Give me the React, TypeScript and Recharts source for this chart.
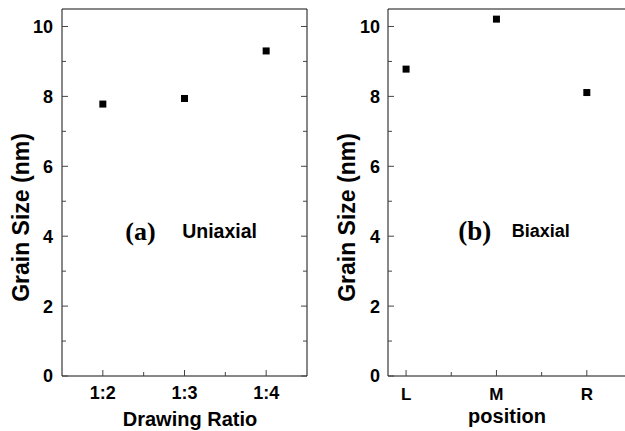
import React from 'react';
import { ScatterChart, Scatter, XAxis, YAxis, ReferenceDot } from 'recharts';

// panel (a): uniaxial drawing
const ratioLabels = ['1:2', '1:3', '1:4'];
const uniaxialSize = [7.78, 7.94, 9.3];

// panel (b): biaxial, measured position
const positionLabels = ['L', 'M', 'R'];
const biaxialSize = [8.78, 10.21, 8.11];

const yTicks = [0, 1, 2, 3, 4, 5, 6, 7, 8, 9, 10];
const xTicks = [1, 1.5, 2, 2.5, 3];
const yLabel = 'Grain Size (nm)';

const SANS = '"Liberation Sans", Arial, Helvetica, sans-serif';
const SERIF = '"Liberation Serif", "Times New Roman", serif';
const tickColor = '#444';
const axisColor = '#111';

const toPoints = (values: number[]) => values.map((v, i) => ({ x: i + 1, y: v }));

const square = (p: any) => (
  <rect x={p.cx - 3.5} y={p.cy - 3.5} width={7} height={7} fill="#000" />
);

// ticks all point inward, like the original Origin plot
const leftTick = (gap: number) => (p: any) => {
  const v = p.payload.value;
  const major = v % 2 === 0;
  return (
    <g>
      <line x1={p.x} x2={p.x + (major ? 6 : 4)} y1={p.y} y2={p.y} stroke={tickColor} />
      {major && (
        <text x={p.x - gap} y={p.y} dy="0.36em" textAnchor="end" fontFamily={SANS} fontWeight="bold" fontSize={18} fill="#000">
          {v}
        </text>
      )}
    </g>
  );
};

const rightTick = (p: any) => {
  const major = p.payload.value % 2 === 0;
  return <line x1={p.x} x2={p.x - (major ? 6 : 4)} y1={p.y} y2={p.y} stroke={tickColor} />;
};

const bottomTick = (names: string[], fontSize: number, dy: number) => (p: any) => {
  const v = p.payload.value;
  const major = Number.isInteger(v);
  return (
    <g>
      <line x1={p.x} x2={p.x} y1={p.y} y2={p.y - (major ? 6 : 4)} stroke={tickColor} />
      {major && (
        <text x={p.x} y={p.y + dy} textAnchor="middle" fontFamily={SANS} fontWeight="bold" fontSize={fontSize} fill="#000">
          {names[v - 1]}
        </text>
      )}
    </g>
  );
};

const topTick = (p: any) => {
  const major = Number.isInteger(p.payload.value);
  return <line x1={p.x} x2={p.x} y1={p.y} y2={p.y + (major ? 6 : 4)} stroke={tickColor} />;
};

const yTitle = (p: any) => {
  const vb = p.viewBox;
  const x = vb.x + vb.width - 33;
  const y = vb.y + vb.height / 2 + 25;
  return (
    <text x={x} y={y} transform={`rotate(-90, ${x}, ${y})`} textAnchor="middle" fontFamily={SANS} fontWeight="bold" fontSize={23} fill="#000">
      {yLabel}
    </text>
  );
};

const xTitle = (text: string, dx: number, baseline: number) => (p: any) => {
  const vb = p.viewBox;
  return (
    <text x={vb.x + dx} y={vb.y + baseline} textAnchor="middle" fontFamily={SANS} fontWeight="bold" fontSize={20} fill="#000">
      {text}
    </text>
  );
};

const note = (text: string, serif: boolean, size: number) => (p: any) => {
  const vb = p.viewBox;
  return (
    <text x={vb.x} y={vb.y} dy={serif ? '0.33em' : '0.36em'} textAnchor="middle" fontFamily={serif ? SERIF : SANS} fontWeight="bold" fontSize={size} fill="#000">
      {text}
    </text>
  );
};

const Panel = ({ values, names, xDomain, width, margin, xTitleText, xTitleDx, xTitleBase, xTickSize, xTickDy, tag, tagX, tagSize, kind, kindX, kindSize, showRight }: any) => (
  <ScatterChart width={width} height={431} margin={margin}>
    <XAxis
      xAxisId="b"
      type="number"
      dataKey="x"
      domain={xDomain}
      allowDataOverflow
      ticks={xTicks}
      interval={0}
      height={40}
      tickSize={0}
      tickMargin={0}
      tickLine={false}
      axisLine={{ stroke: axisColor }}
      tick={bottomTick(names, xTickSize, xTickDy)}
      label={xTitle(xTitleText, xTitleDx, xTitleBase)}
    />
    <XAxis
      xAxisId="t"
      orientation="top"
      type="number"
      domain={xDomain}
      allowDataOverflow
      ticks={xTicks}
      interval={0}
      height={1}
      tickSize={0}
      tickMargin={0}
      tickLine={false}
      axisLine={{ stroke: axisColor }}
      tick={topTick}
    />
    <YAxis
      yAxisId="l"
      type="number"
      dataKey="y"
      domain={[0, 10.5]}
      allowDataOverflow
      ticks={yTicks}
      interval={0}
      width={60}
      tickSize={0}
      tickMargin={0}
      tickLine={false}
      axisLine={{ stroke: axisColor }}
      tick={leftTick(showRight ? 9 : 8)}
      label={yTitle}
    />
    {showRight && (
      <YAxis
        yAxisId="r"
        orientation="right"
        type="number"
        domain={[0, 10.5]}
        allowDataOverflow
        ticks={yTicks}
        interval={0}
        width={1}
        tickSize={0}
        tickMargin={0}
        tickLine={false}
        axisLine={{ stroke: axisColor }}
        tick={rightTick}
      />
    )}
    <ReferenceDot xAxisId="b" yAxisId="l" x={tagX} y={4.15} r={0} fill="none" stroke="none" label={note(tag, true, tagSize)} />
    <ReferenceDot xAxisId="b" yAxisId="l" x={kindX} y={4.15} r={0} fill="none" stroke="none" label={note(kind, false, kindSize)} />
    <Scatter xAxisId="b" yAxisId="l" data={toPoints(values)} shape={square} isAnimationActive={false} />
  </ScatterChart>
);

export default function App() {
  return (
    <div style={{ position: 'absolute', left: 0, top: 0, width: 625, height: 431, overflow: 'hidden', background: '#fff' }}>
      <div style={{ position: 'absolute', left: 0, top: 0 }}>
        <Panel
          values={uniaxialSize}
          names={ratioLabels}
          xDomain={[0.5, 3.5]}
          width={320}
          margin={{ top: 8, right: 12, bottom: 15, left: 2 }}
          xTitleText="Drawing Ratio"
          xTitleDx={128}
          xTitleBase={50}
          xTickSize={18}
          xTickDy={23}
          tag="(a)"
          tagX={1.46}
          tagSize={26}
          kind="Uniaxial"
          kindX={2.43}
          kindSize={19.5}
          showRight
        />
      </div>
      <div style={{ position: 'absolute', left: 320, top: 0 }}>
        <Panel
          values={biaxialSize}
          names={positionLabels}
          xDomain={[0.8, 3.5]}
          width={330}
          margin={{ top: 8, right: 18, bottom: 15, left: 8 }}
          xTitleText="position"
          xTitleDx={119}
          xTitleBase={47}
          xTickSize={17}
          xTickDy={24}
          tag="(b)"
          tagX={1.76}
          tagSize={27}
          kind="Biaxial"
          kindX={2.49}
          kindSize={18}
          showRight={false}
        />
      </div>
    </div>
  );
}
